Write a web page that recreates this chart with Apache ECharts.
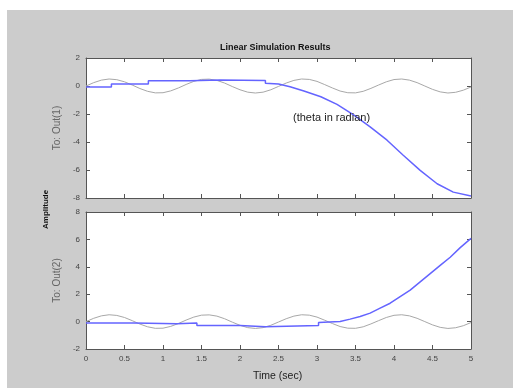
<!DOCTYPE html>
<html><head><meta charset="utf-8">
<script src="https://cdn.jsdelivr.net/npm/echarts@6/dist/echarts.min.js"></script>
<style>html,body{margin:0;padding:0;background:#fff}#c{width:513px;height:388px}</style>
</head><body><div id="c"></div>
<script>
// time samples for the input signal (sec)
const inputTimes = [0,0.1,0.2,0.3,0.4,0.5,0.6,0.7,0.8,0.9,1.0,1.1,1.2,1.3,1.4,1.5,1.6,1.7,1.8,1.9,2.0,2.1,2.2,2.3,2.4,2.5,2.6,2.7,2.8,2.9,3.0,3.1,3.2,3.3,3.4,3.5,3.6,3.7,3.8,3.9,4.0,4.1,4.2,4.3,4.4,4.5,4.6,4.7,4.8,4.9,5.0];
// input signal (gray), same in both panels
const inputValues = [0,0.24,0.42,0.50,0.45,0.30,0.07,-0.18,-0.38,-0.49,-0.48,-0.35,-0.14,0.11,0.33,0.47,0.49,0.40,0.21,-0.04,-0.27,-0.44,-0.50,-0.44,-0.27,-0.03,0.21,0.40,0.50,0.47,0.33,0.10,-0.14,-0.36,-0.48,-0.49,-0.38,-0.17,0.07,0.30,0.46,0.50,0.42,0.24,0.00,-0.24,-0.42,-0.50,-0.45,-0.30,-0.07];
// Out(1) response (blue)
const out1Times  = [0,0.33,0.33,0.81,0.81,1.35,1.35,1.74,1.74,2.33,2.33,2.5,2.65,2.83,3.05,3.26,3.48,3.69,3.91,4.12,4.34,4.56,4.77,5.0];
const out1Values = [-0.08,-0.08,0.14,0.14,0.38,0.38,0.42,0.42,0.40,0.40,0.20,0.15,-0.05,-0.36,-0.77,-1.31,-2.08,-2.92,-3.87,-4.95,-6.03,-6.98,-7.58,-7.85];
// Out(2) response (blue)
const out2Times  = [0,0.62,0.62,1.18,1.18,1.44,1.44,2.0,2.0,2.33,2.33,3.02,3.02,3.3,3.43,3.56,3.69,3.82,3.95,4.08,4.21,4.34,4.47,4.6,4.73,4.86,5.0];
const out2Values = [-0.1,-0.1,-0.15,-0.15,-0.1,-0.1,-0.28,-0.28,-0.37,-0.37,-0.28,-0.28,-0.06,0.0,0.18,0.37,0.62,0.98,1.34,1.83,2.3,2.9,3.5,4.1,4.7,5.4,6.07];
const xTicks = ['0','0.5','1','1.5','2','2.5','3','3.5','4','4.5','5'];
const titleText = 'Linear Simulation Results';
const annotation = '(theta in radian)';

const zip = (a, b) => a.map((t, i) => [t, b[i]]);
const font = 'Liberation Sans, Arial, sans-serif';
const lblColor = '#444';
const axLine = {show: true, onZero: false, lineStyle: {color: '#555', width: 1}};
const tick = {show: true, inside: true, length: 4, lineStyle: {color: '#555'}};

function xAx(grid, pos, labels) {
  return {type: 'value', gridIndex: grid, position: pos, min: 0, max: 5, interval: 0.5,
    axisLine: axLine, axisTick: tick, splitLine: {show: false},
    axisLabel: {show: labels, color: lblColor, fontSize: 8, fontFamily: font, margin: 6,
      formatter: v => xTicks[Math.round(v * 2)]}};
}
function yAx(grid, pos, min, max, name, labels) {
  return {type: 'value', gridIndex: grid, position: pos, min: min, max: max, interval: 2,
    name: name, nameLocation: 'middle', nameGap: 18, nameRotate: 90,
    nameTextStyle: {color: '#666', fontSize: 10, fontFamily: font},
    axisLine: axLine, axisTick: tick, splitLine: {show: false},
    axisLabel: {show: labels, color: lblColor, fontSize: 8, fontFamily: font, margin: 6}};
}

const chart = echarts.init(document.getElementById('c'), null, {renderer: 'canvas'});
chart.setOption({
  backgroundColor: '#ffffff',
  animation: false,
  graphic: [
    {type: 'rect', z: -10, shape: {x: 7, y: 10, width: 506, height: 378}, style: {fill: '#cccccc'}},
    {type: 'text', z: 10, left: 293, top: 112, style: {text: annotation, fill: '#222', font: '11px ' + font}},
    {type: 'text', z: 10, left: 220, top: 43, style: {text: titleText, fill: '#111', font: 'bold 9px ' + font}},
    {type: 'text', z: 10, left: 253, top: 371, style: {text: 'Time (sec)', fill: '#222', font: '10.5px ' + font}},
    {type: 'text', z: 10, x: 42, y: 229, rotation: Math.PI / 2, style: {text: 'Amplitude', fill: '#111', font: 'bold 8px ' + font}}
  ],
  grid: [
    {left: 86, top: 58, width: 385, height: 140, show: true, backgroundColor: '#fff', borderWidth: 0},
    {left: 86, top: 212, width: 385, height: 137, show: true, backgroundColor: '#fff', borderWidth: 0}
  ],
  xAxis: [xAx(0, 'bottom', false), xAx(0, 'top', false), xAx(1, 'bottom', true), xAx(1, 'top', false)],
  yAxis: [yAx(0, 'left', -8, 2, 'To: Out(1)', true), yAx(0, 'right', -8, 2, '', false),
          yAx(1, 'left', -2, 8, 'To: Out(2)', true), yAx(1, 'right', -2, 8, '', false)],
  series: [
    {type: 'line', xAxisIndex: 0, yAxisIndex: 0, data: zip(inputTimes, inputValues), showSymbol: false,
      lineStyle: {color: '#a8a8a8', width: 1}},
    {type: 'line', xAxisIndex: 0, yAxisIndex: 0, data: zip(out1Times, out1Values), showSymbol: false,
      lineStyle: {color: '#6464ff', width: 1.5}},
    {type: 'line', xAxisIndex: 2, yAxisIndex: 2, data: zip(inputTimes, inputValues), showSymbol: false,
      lineStyle: {color: '#a8a8a8', width: 1}},
    {type: 'line', xAxisIndex: 2, yAxisIndex: 2, data: zip(out2Times, out2Values), showSymbol: false,
      lineStyle: {color: '#6464ff', width: 1.5}}
  ]
});
</script></body></html>
